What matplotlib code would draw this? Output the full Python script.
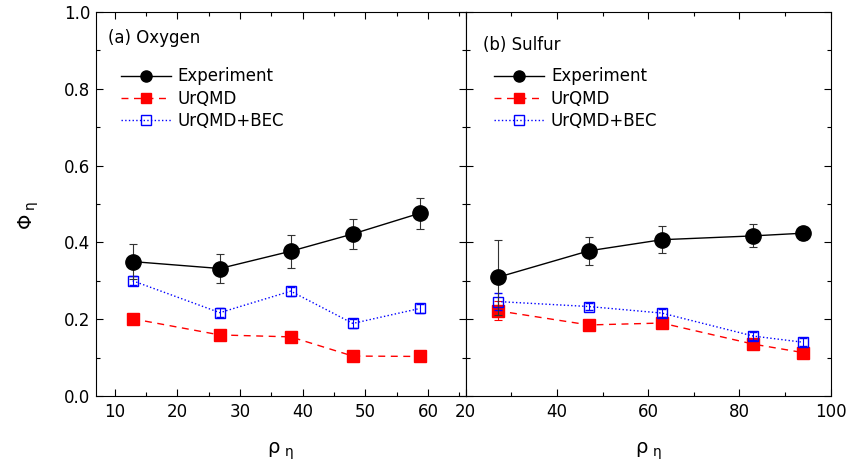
import numpy as np
import matplotlib
matplotlib.use("Agg")
import matplotlib.pyplot as plt
from matplotlib.lines import Line2D

plt.rcParams['font.family'] = ['DejaVu Sans']
plt.rcParams['font.size'] = 12
plt.rcParams['mathtext.fontset'] = 'dejavusans'

# (a) Oxygen
o_rho = [12.9, 26.8, 38.1, 48.0, 58.7]
o_exp = [0.350, 0.332, 0.377, 0.422, 0.476]
o_exp_err = [0.045, 0.038, 0.043, 0.040, 0.040]
o_urqmd = [0.201, 0.159, 0.154, 0.104, 0.103]
o_urqmd_err = [0.005, 0.005, 0.005, 0.004, 0.004]
o_bec = [0.300, 0.217, 0.273, 0.189, 0.228]
o_bec_err = [0.012, 0.012, 0.012, 0.012, 0.012]

# (b) Sulfur
s_rho = [27.0, 47.0, 63.0, 83.1, 94.0]
s_exp = [0.309, 0.378, 0.407, 0.417, 0.424]
s_exp_err = [0.097, 0.036, 0.035, 0.030, 0.017]
s_urqmd = [0.222, 0.185, 0.190, 0.135, 0.113]
s_urqmd_err = [0.025, 0.006, 0.006, 0.008, 0.005]
s_bec = [0.246, 0.233, 0.216, 0.156, 0.140]
s_bec_err = [0.023, 0.010, 0.010, 0.010, 0.010]

W, H = 850, 467
fig = plt.figure(figsize=(W / 100, H / 100), dpi=100)
bot, top = 1 - 396 / H, 1 - 12 / H
ax1 = fig.add_axes([95.7 / W, bot, (465.7 - 95.7) / W, top - bot])
ax2 = fig.add_axes([465.7 / W, bot, (830.5 - 465.7) / W, top - bot])

exp_style = dict(color='black', ls='-', lw=1.0, marker='o', ms=11)
urq_style = dict(color='red', ls='--', lw=1.0, dashes=(5, 4), marker='s', ms=8,
                 mec='red', mfc='red')
bec_style = dict(color='blue', ls=':', lw=1.0, marker='s', ms=7.5,
                 mec='blue', mfc='none', mew=1.0)


def draw(ax, x, exp, exp_err, urq, urq_err, bec, bec_err):
    ax.errorbar(x, urq, yerr=urq_err, capsize=3, elinewidth=0.8, capthick=0.8,
                zorder=2, **urq_style)
    ax.errorbar(x, bec, yerr=bec_err, capsize=3, elinewidth=0.8, capthick=0.8,
                zorder=3, **bec_style)
    ax.errorbar(x, exp, yerr=exp_err, capsize=3, elinewidth=0.8, capthick=0.8,
                ecolor='#333333', zorder=4, **exp_style)
    ax.set_ylim(0, 1.0)
    ax.set_yticks(np.arange(0, 1.01, 0.2))
    ax.set_yticks(np.arange(0.1, 1.0, 0.2), minor=True)
    ax.tick_params(which='both', direction='in', top=True, right=True)
    ax.tick_params(which='major', length=5, width=0.8)
    ax.tick_params(which='minor', length=3, width=0.8)
    ax.tick_params(axis='x', pad=5)
    ax.tick_params(axis='y', pad=4)
    handles = [Line2D([], [], **exp_style),
               Line2D([], [], **urq_style),
               Line2D([], [], **bec_style)]
    handles[0].set_markersize(8)
    handles[1].set_markersize(6.5)
    handles[2].set_markersize(6.5)
    return handles, ['Experiment', 'UrQMD', 'UrQMD+BEC']


xlab = r'$\mathrm{\rho}_{\ \mathrm{\eta}}$'

h, l = draw(ax1, o_rho, o_exp, o_exp_err, o_urqmd, o_urqmd_err, o_bec, o_bec_err)
ax1.set_xlim(7, 66)
ax1.set_xticks([10, 20, 30, 40, 50, 60])
ax1.set_xticks([15, 25, 35, 45, 55, 65], minor=True)
ax1.set_yticklabels(['0.0', '0.2', '0.4', '0.6', '0.8', '1.0'])
ax1.text(-0.18, 0.47, r'$\mathrm{\Phi}_{\ \mathrm{\eta}}$', fontsize=14,
         rotation=90, ha='center', va='center', transform=ax1.transAxes)
ax1.set_xlabel(xlab, fontsize=14, labelpad=14)
ax1.text(0.033, 0.932, '(a) Oxygen', transform=ax1.transAxes, va='center', ha='left')
ax1.legend(h, l, loc='upper left', bbox_to_anchor=(0.05, 0.873), frameon=False,
           handlelength=3.0, handletextpad=0.4, labelspacing=0.25, borderaxespad=0)

h, l = draw(ax2, s_rho, s_exp, s_exp_err, s_urqmd, s_urqmd_err, s_bec, s_bec_err)
ax2.set_xlim(20, 100)
ax2.set_xticks([20, 40, 60, 80, 100])
ax2.set_xticks([30, 50, 70, 90], minor=True)
ax2.set_yticklabels([])
ax2.set_xlabel(xlab, fontsize=14, labelpad=14)
ax2.text(0.047, 0.914, '(b) Sulfur', transform=ax2.transAxes, va='center', ha='left')
ax2.legend(h, l, loc='upper left', bbox_to_anchor=(0.06, 0.873), frameon=False,
           handlelength=3.0, handletextpad=0.4, labelspacing=0.25, borderaxespad=0)

fig.savefig('out.png', dpi=100)
